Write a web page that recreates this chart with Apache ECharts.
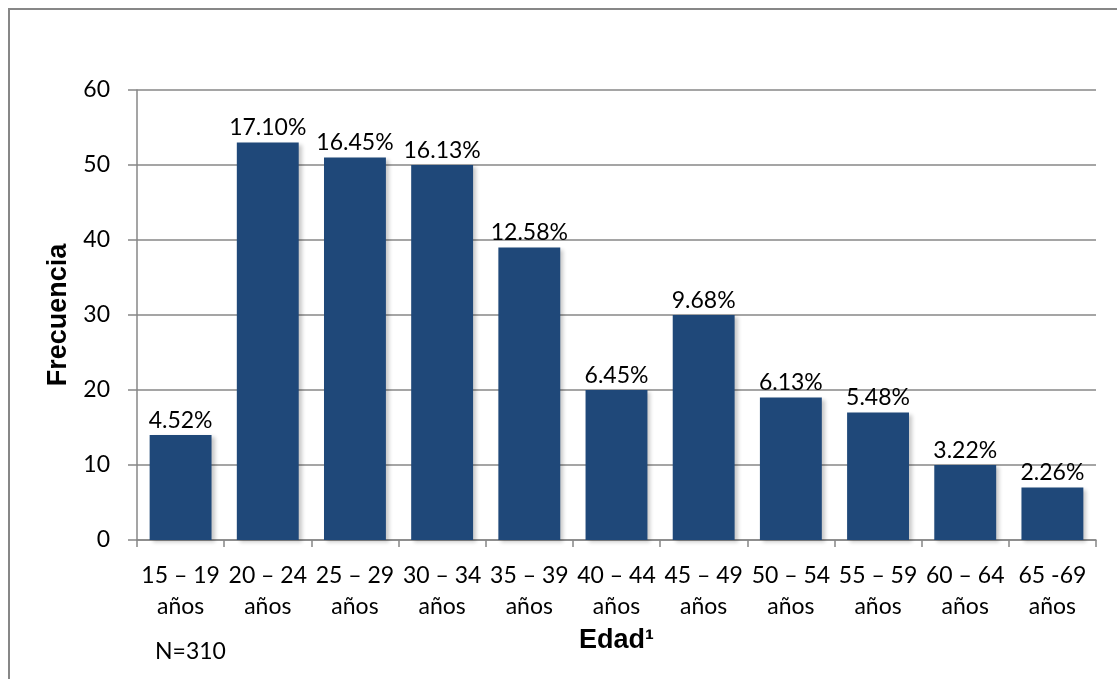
<!DOCTYPE html>
<html>
<head>
<meta charset="utf-8">
<script src="https://cdn.jsdelivr.net/npm/echarts@6/dist/echarts.min.js"></script>
<style>
  html, body { margin: 0; padding: 0; background: #fff; }
  #chart { width: 1117px; height: 679px; }
</style>
</head>
<body>
<div id="chart"></div>
<script>
// grupos de edad y frecuencias (N=310)
const categorias = ["15 – 19\naños", "20 – 24\naños", "25 – 29\naños", "30 – 34\naños", "35 – 39\naños",
  "40 – 44\naños", "45 – 49\naños", "50 – 54\naños", "55 – 59\naños", "60 – 64\naños", "65 -69\naños"];
const frecuencias = [14, 53, 51, 50, 39, 20, 30, 19, 17, 10, 7];
const porcentajes = ["4.52%", "17.10%", "16.45%", "16.13%", "12.58%", "6.45%", "9.68%", "6.13%", "5.48%", "3.22%", "2.26%"];
const total = 310;

const fuente = "Lato, 'Open Sans', sans-serif";
const negrita = "'Liberation Sans', Arial, sans-serif";
const gris = "#878787";

const chart = echarts.init(document.getElementById("chart"));
const option = {
  animation: false,
  grid: { left: 137, right: 21, top: 90, bottom: 139 },
  graphic: [
    { type: "rect", shape: { x: 9, y: 9, width: 1300, height: 1000 },
      style: { fill: "none", stroke: gris, lineWidth: 2 }, silent: true },
    { type: "text", left: 155, top: 640, z: 10,
      style: { text: "N=" + total, font: "23px " + fuente, fill: "#000" } },
    // el texto N=310 aparece recortado por abajo en el original
    { type: "rect", shape: { x: 145, y: 661, width: 120, height: 30 }, z: 11,
      style: { fill: "#fff" }, silent: true }
  ],
  xAxis: {
    type: "category",
    data: categorias,
    name: "Edad¹",
    nameLocation: "middle",
    nameGap: 84,
    nameTextStyle: { fontFamily: negrita, fontWeight: "bold", fontSize: 27, color: "#000" },
    axisLine: { lineStyle: { color: gris, width: 1.5 } },
    axisTick: { show: true, length: 7, alignWithLabel: false, lineStyle: { color: gris, width: 1.5 } },
    axisLabel: { color: "#000", fontFamily: fuente, fontSize: 23, lineHeight: 31, margin: 20, interval: 0 }
  },
  yAxis: {
    type: "value",
    min: 0, max: 60, interval: 10,
    name: "Frecuencia",
    nameLocation: "middle",
    nameGap: 65,
    nameRotate: 90,
    nameTextStyle: { fontFamily: negrita, fontWeight: "bold", fontSize: 27, color: "#000" },
    axisLine: { show: true, lineStyle: { color: gris, width: 1.5 } },
    axisTick: { show: true, length: 9, lineStyle: { color: gris, width: 1.5 } },
    axisLabel: { color: "#000", fontFamily: fuente, fontSize: 23, margin: 27 },
    splitLine: { lineStyle: { color: gris, width: 1.5 } }
  },
  series: [{
    type: "bar",
    data: frecuencias,
    barCategoryGap: "29%",
    itemStyle: {
      color: "#1f4879",
      shadowColor: "rgba(0,0,0,0.22)",
      shadowBlur: 4,
      shadowOffsetX: 3,
      shadowOffsetY: 2
    },
    label: {
      show: true,
      position: "top",
      distance: 3,
      color: "#000",
      fontFamily: fuente,
      fontSize: 23,
      formatter: (p) => porcentajes[p.dataIndex]
    }
  }]
};
chart.setOption(option);
</script>
</body>
</html>
